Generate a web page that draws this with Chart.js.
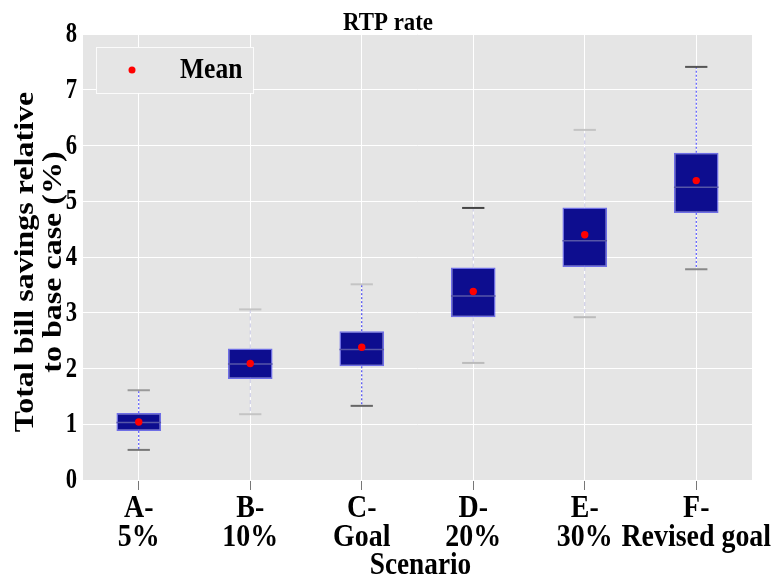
<!DOCTYPE html>
<html>
<head>
<meta charset="utf-8">
<script src="https://cdn.jsdelivr.net/npm/chart.js@4/dist/chart.umd.min.js"></script>
<style>
  html, body { margin: 0; padding: 0; background: #fff; }
  #wrap { width: 776px; height: 577px; }
</style>
</head>
<body>
<div id="wrap"><canvas id="boxChart" width="776" height="577"></canvas></div>
<script>
// data
const scenarios = [['A-', '5%'], ['B-', '10%'], ['C-', 'Goal'], ['D-', '20%'], ['E-', '30%'], ['F-', 'Revised goal']];
const q1 = [0.88, 1.81, 2.04, 2.92, 3.82, 4.79];
const q3 = [1.20, 2.36, 2.67, 3.81, 4.89, 5.87];
const medians = [1.03, 2.08, 2.34, 3.30, 4.29, 5.25];
const means = [1.04, 2.09, 2.38, 3.38, 4.40, 5.37];
const whiskerLow = [0.54, 1.18, 1.33, 2.10, 2.92, 3.78];
const whiskerHigh = [1.61, 3.06, 3.51, 4.88, 6.28, 7.41];
const yTicks = [0, 1, 2, 3, 4, 5, 6, 7, 8];
const chartTitle = 'RTP rate';
const yTitle = ['Total bill savings relative', 'to base case (%)'];
const xTitle = 'Scenario';
const legendLabel = 'Mean';

// whisker look per box (it changes from box to box in the original)
const whiskerStyles = [
  { line: '#3a3aff', dash: [2, 2], capTop: '#9a9a9a', capBot: '#777' },
  { line: '#c6c6e4', dash: [4, 3], capTop: '#c4c4c4', capBot: '#c4c4c4' },
  { line: '#2a2aee', dash: [2, 2], capTop: '#c4c4c4', capBot: '#666' },
  { line: '#c6c6e4', dash: [4, 3], capTop: '#444', capBot: '#bbb' },
  { line: '#c6c6e4', dash: [4, 3], capTop: '#c4c4c4', capBot: '#bbb' },
  { line: '#3a3aff', dash: [2, 2], capTop: '#555', capBot: '#888' }
];

const serif = "'Liberation Serif', 'DejaVu Serif', serif";
const plotBg = '#e5e5e5';

// texte serré horizontalement (le rendu d'origine est étroit)
function squeezedText(ctx, text, x, y, size, squeeze, align, rotated) {
  ctx.save();
  ctx.translate(x, y);
  if (rotated) {
    ctx.rotate(-Math.PI / 2);
    ctx.scale(1, squeeze);
  } else {
    ctx.scale(squeeze, 1);
  }
  ctx.font = 'bold ' + size + 'px ' + serif;
  ctx.fillStyle = '#000';
  ctx.textAlign = align;
  ctx.textBaseline = 'alphabetic';
  ctx.fillText(text, 0, 0);
  ctx.restore();
}

const boxPlugin = {
  id: 'boxExtras',
  beforeDraw(chart) {
    const a = chart.chartArea;
    const ctx = chart.ctx;
    ctx.save();
    ctx.fillStyle = plotBg;
    ctx.fillRect(a.left, a.top, a.right - a.left, a.bottom - a.top);
    ctx.restore();
  },
  beforeDatasetsDraw(chart) {
    const ctx = chart.ctx;
    const x = chart.scales.x;
    const y = chart.scales.y;
    const meta = chart.getDatasetMeta(1);
    ctx.save();
    scenarios.forEach((s, i) => {
      const cx = x.getPixelForValue(i);
      const st = whiskerStyles[i];
      const bw = meta.data[i] ? meta.data[i].width : 45;
      const capHalf = bw / 4;
      ctx.strokeStyle = st.line;
      ctx.lineWidth = 1;
      ctx.setLineDash(st.dash);
      ctx.beginPath();
      ctx.moveTo(cx, y.getPixelForValue(q3[i]));
      ctx.lineTo(cx, y.getPixelForValue(whiskerHigh[i]));
      ctx.moveTo(cx, y.getPixelForValue(q1[i]));
      ctx.lineTo(cx, y.getPixelForValue(whiskerLow[i]));
      ctx.stroke();
      ctx.setLineDash([]);
      ctx.lineWidth = 2;
      ctx.strokeStyle = st.capTop;
      ctx.beginPath();
      ctx.moveTo(cx - capHalf, y.getPixelForValue(whiskerHigh[i]));
      ctx.lineTo(cx + capHalf, y.getPixelForValue(whiskerHigh[i]));
      ctx.stroke();
      ctx.strokeStyle = st.capBot;
      ctx.beginPath();
      ctx.moveTo(cx - capHalf, y.getPixelForValue(whiskerLow[i]));
      ctx.lineTo(cx + capHalf, y.getPixelForValue(whiskerLow[i]));
      ctx.stroke();
    });
    ctx.restore();
  },
  afterDatasetDraw(chart, args) {
    if (args.index !== 1) return;
    const ctx = chart.ctx;
    const y = chart.scales.y;
    ctx.save();
    ctx.strokeStyle = '#5656a8';
    ctx.lineWidth = 1.5;
    args.meta.data.forEach((bar, i) => {
      const py = y.getPixelForValue(medians[i]);
      ctx.beginPath();
      ctx.moveTo(bar.x - bar.width / 2, py);
      ctx.lineTo(bar.x + bar.width / 2, py);
      ctx.stroke();
    });
    ctx.restore();
  },
  afterDraw(chart) {
    const a = chart.chartArea;
    const ctx = chart.ctx;
    const x = chart.scales.x;
    const y = chart.scales.y;

    // legende
    const lx = a.left + 13, ly = a.top + 13, lw = 157, lh = 46;
    ctx.save();
    ctx.fillStyle = plotBg;
    ctx.fillRect(lx, ly, lw, lh);
    ctx.strokeStyle = 'rgba(255,255,255,0.85)';
    ctx.lineWidth = 1;
    ctx.strokeRect(lx + 0.5, ly + 0.5, lw, lh);
    ctx.fillStyle = '#ff0000';
    ctx.beginPath();
    ctx.arc(lx + 36, ly + 23, 3.5, 0, Math.PI * 2);
    ctx.fill();
    ctx.restore();
    squeezedText(ctx, legendLabel, lx + 84, ly + 31, 29, 0.88, 'left', false);

    // titre
    squeezedText(ctx, chartTitle, chart.width / 2, 30, 26, 0.88, 'center', false);

    // graduations y
    yTicks.forEach(v => {
      squeezedText(ctx, String(v), a.left - 6, y.getPixelForValue(v) + 8, 29, 0.78, 'right', false);
    });

    // etiquettes x
    scenarios.forEach((lines, i) => {
      const cx = x.getPixelForValue(i);
      lines.forEach((t, k) => {
        squeezedText(ctx, t, cx, a.bottom + 37 + k * 29, 31, 0.9, 'center', false);
      });
    });
    squeezedText(ctx, xTitle, (a.left + a.right) / 2 + 3, a.bottom + 94, 31, 0.88, 'center', false);

    // titre y (deux lignes, tourne)
    const yMid = (a.top + a.bottom) / 2 + 5;
    yTitle.forEach((t, k) => {
      squeezedText(ctx, t, 33 + k * 28, yMid, 32, 0.88, 'center', true);
    });
  }
};

const ctx = document.getElementById('boxChart').getContext('2d');
const chart = new Chart(ctx, {
  type: 'bar',
  data: {
    labels: scenarios,
    datasets: [{
      type: 'line',
      label: 'Mean',
      data: means,
      showLine: false,
      pointRadius: 3.7,
      pointBackgroundColor: '#ff0000',
      pointBorderWidth: 0,
      order: 0
    }, {
      type: 'bar',
      label: 'IQR',
      data: q1.map((v, i) => [v, q3[i]]),
      backgroundColor: '#0d0d8f',
      borderColor: 'rgba(70,70,230,0.75)',
      borderWidth: 1.5,
      borderSkipped: false,
      barPercentage: 0.4,
      categoryPercentage: 1,
      order: 1
    }]
  },
  options: {
    responsive: false,
    animation: false,
    layout: { padding: { left: 0, right: 24, top: 34, bottom: 0 } },
    plugins: {
      legend: { display: false },
      tooltip: { enabled: false },
      title: { display: false }
    },
    scales: {
      x: {
        afterFit: scale => { scale.height = 97; },
        grid: { offset: false, color: '#ffffff', lineWidth: 1, tickColor: '#777', tickLength: 10, drawTicks: true },
        border: { display: false },
        ticks: { display: true, autoSkip: false, maxRotation: 0, color: 'rgba(0,0,0,0)', font: { size: 1 } }
      },
      y: {
        min: 0,
        max: 8,
        afterBuildTicks: scale => { scale.ticks = yTicks.map(v => ({ value: v })); },
        afterFit: scale => { scale.width = 83; },
        grid: { color: '#ffffff', lineWidth: 1, drawTicks: false },
        border: { display: false },
        ticks: { display: false }
      }
    }
  },
  plugins: [boxPlugin]
});
</script>
</body>
</html>
